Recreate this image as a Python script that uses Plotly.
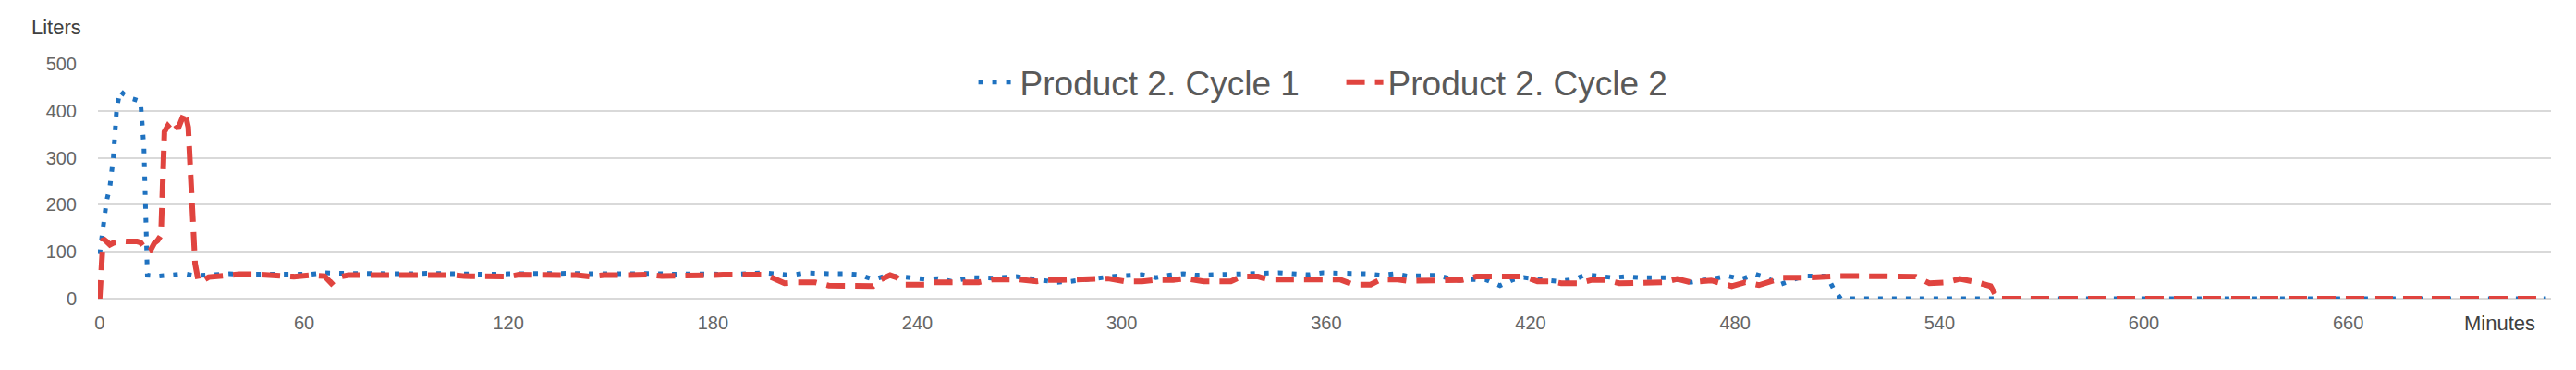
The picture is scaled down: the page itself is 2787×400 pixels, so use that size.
import plotly.graph_objects as go

# Cycle 1 (blue dotted) - minutes / liters
minutes_c1 = [0, 1, 2, 3, 4, 5, 6, 7, 8, 9, 10, 11, 12, 13, 14, 17, 21, 25, 28, 33,
              38, 44, 50, 56, 62, 66, 72, 78, 84, 90, 96, 102, 108, 114, 120, 126, 132,
              138, 144, 150, 156, 162, 168, 174, 178, 186, 195, 199, 203, 207, 211, 215,
              219, 223, 227, 231, 238, 243, 246, 250, 256, 262, 269, 274, 281, 285, 293,
              298, 306, 310, 314, 318, 322, 326, 330, 334, 338, 342, 346, 350, 355, 359,
              363, 368, 372, 376, 380, 384, 388, 392, 399, 403, 407, 411, 415, 418, 424,
              428, 433, 436, 444, 448, 452, 456, 460, 467, 473, 478, 482, 486, 489, 493,
              500, 507, 509, 511, 718]
liters_c1 = [95, 160, 207, 238, 300, 405, 443, 436, 430, 427, 425, 423, 420, 320, 50, 48, 51, 53, 49, 51,
             53, 52, 53, 52, 52, 55, 54, 53, 54, 53, 54, 53, 54, 52, 53, 54, 53,
             54, 53, 52, 53, 54, 52, 53, 53, 52, 55, 53, 50, 55, 53, 53,
             53, 51, 41, 49, 45, 41, 43, 37, 45, 44, 47, 41, 35, 37, 45,
             48, 51, 45, 50, 53, 50, 51, 51, 53, 53, 53, 55, 53, 51, 55,
             55, 53, 53, 50, 53, 48, 48, 50, 39, 41, 40, 28, 41, 45, 40,
             37, 41, 51, 45, 47, 45, 45, 45, 35, 42, 48, 42, 52, 45, 30,
             48, 48, 20, 0, 0]

# Cycle 2 (red dashed)
minutes_c2 = [0, 1, 2, 3, 4, 5, 6, 8, 10, 11, 12, 13, 14, 15, 16, 17, 18, 19, 20, 21,
              22, 23, 24, 25, 26, 27, 28, 29, 30, 32, 35, 38, 41, 45, 49, 53, 57, 62,
              66, 68, 70, 73, 78, 82, 87, 91, 95, 99, 104, 107, 111, 115, 120, 123, 128,
              132, 136, 140, 144, 148, 153, 156, 161, 165, 169, 174, 179, 183, 189, 195,
              198, 201, 205, 210, 214, 219, 223, 227, 229, 232, 234, 236, 242, 245, 250,
              254, 258, 262, 265, 270, 275, 278, 282, 286, 291, 294, 296, 301, 306, 310,
              315, 319, 324, 328, 332, 335, 340, 343, 348, 352, 356, 360, 364, 368, 373,
              376, 381, 384, 388, 392, 396, 400, 404, 408, 418, 422, 426, 429, 434, 438,
              442, 446, 450, 454, 459, 463, 467, 473, 479, 483, 487, 491, 494, 502, 510,
              518, 527, 533, 537, 542, 546, 548, 551, 555, 557, 718]
liters_c2 = [0, 128, 122, 115, 119, 122, 123, 122, 123, 122, 120, 108, 100, 104, 118, 124, 135, 355, 368, 360,
             372, 362, 378, 398, 365, 240, 75, 36, 37, 46, 49, 50, 52, 52, 50, 50, 47, 50,
             48, 33, 46, 50, 50, 51, 51, 50, 50, 50, 50, 48, 48, 47, 47, 51, 51,
             51, 51, 50, 47, 50, 50, 51, 51, 48, 48, 50, 50, 51, 51, 51,
             43, 33, 35, 35, 28, 28, 27, 27, 40, 50, 45, 30, 30, 35, 35,
             35, 35, 41, 41, 41, 37, 40, 40, 41, 41, 43, 43, 37, 37, 40,
             40, 43, 37, 37, 37, 47, 47, 41, 41, 40, 40, 41, 41, 30, 30,
             41, 41, 38, 38, 38, 38, 40, 47, 47, 47, 37, 37, 33, 33, 40,
             40, 33, 33, 33, 35, 42, 35, 39, 27, 35, 29, 38, 45, 45, 48,
             48, 48, 47, 33, 35, 42, 40, 35, 27, 0, 0]

x_ticks = [0, 60, 120, 180, 240, 300, 360, 420, 480, 540, 600, 660]
y_ticks = [0, 100, 200, 300, 400, 500]

fig = go.Figure()
fig.add_trace(go.Scatter(x=minutes_c1, y=liters_c1, mode='lines', name='Product 2. Cycle 1',
                         line=dict(color='#1F72C0', width=5, dash='5px,10px')))
fig.add_trace(go.Scatter(x=minutes_c2, y=liters_c2, mode='lines', name='Product 2. Cycle 2',
                         line=dict(color='#E0443F', width=6, dash='20px,11px')))

fig.update_layout(
    width=2787, height=400,
    margin=dict(l=106, r=27, t=69, b=77),
    paper_bgcolor='white', plot_bgcolor='white',
    font=dict(family='Liberation Sans, Arial, sans-serif', color='#666666'),
    showlegend=True,
    legend=dict(orientation='h', x=0.507, xanchor='center', y=0.92, yanchor='middle',
                font=dict(size=37, color='#595959'), bgcolor='rgba(0,0,0,0)',
                itemwidth=40, entrywidth=343, entrywidthmode='pixels'),
)
fig.update_xaxes(range=[-0.5, 719.5], tickvals=x_ticks, showgrid=False, zeroline=False,
                 showline=False, ticks='', tickfont=dict(size=20, color='#666666'),
                 ticklabelstandoff=12)
fig.update_yaxes(range=[0, 500], tickvals=y_ticks, showgrid=True, gridcolor='#D9D9D9',
                 gridwidth=1.5, zeroline=True, zerolinecolor='#D9D9D9', zerolinewidth=1.5,
                 showline=False, ticks='', tickfont=dict(size=20, color='#666666'),
                 ticklabelstandoff=22)

fig.add_annotation(text='Liters', xref='paper', yref='paper', x=-0.0279, y=1.154,
                   xanchor='left', yanchor='middle', showarrow=False,
                   font=dict(size=22, color='#404040'))
fig.add_annotation(text='Minutes', xref='paper', yref='paper', x=0.979, y=-0.106,
                   xanchor='center', yanchor='middle', showarrow=False,
                   font=dict(size=22, color='#404040'))

fig.write_html("out.html", config={'displayModeBar': False},
               post_script="document.body.style.margin='0';")
